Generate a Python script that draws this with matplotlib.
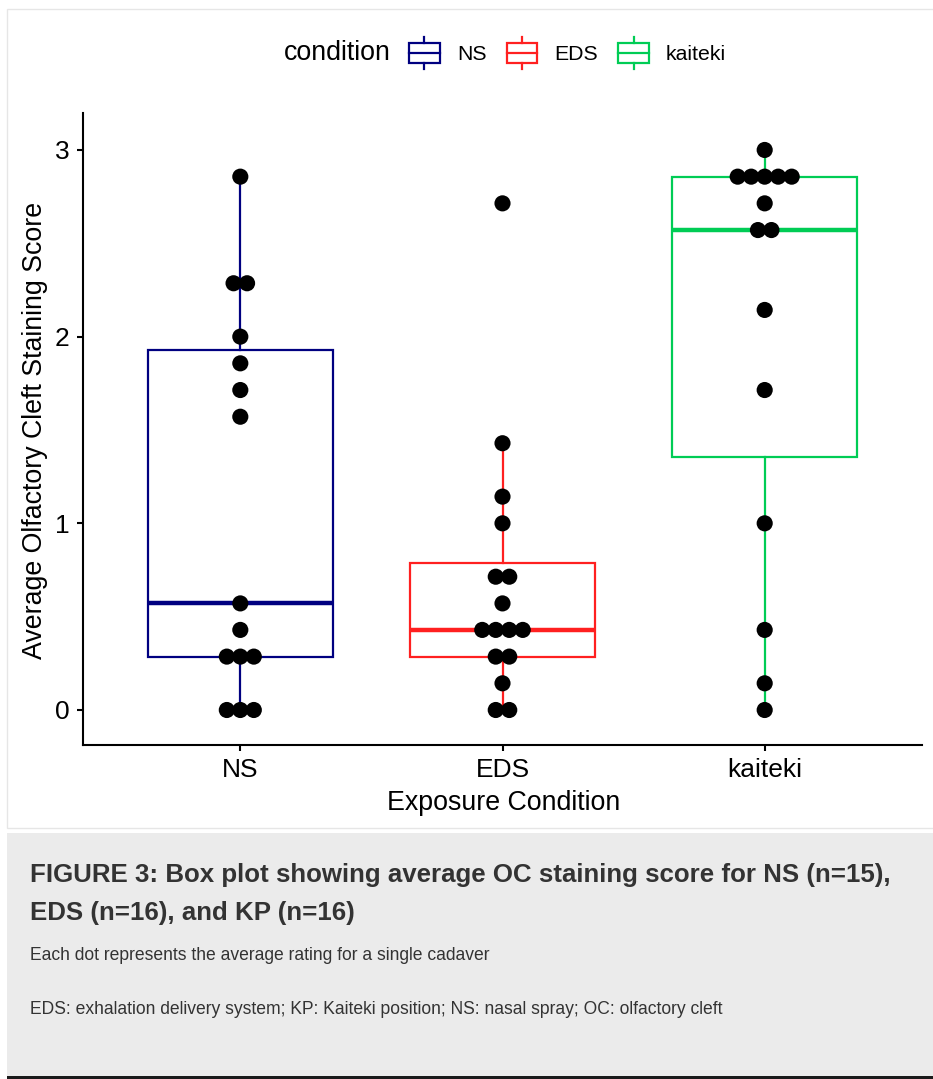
import matplotlib
matplotlib.use("Agg")
import matplotlib.pyplot as plt
from matplotlib.patches import Rectangle
from matplotlib.lines import Line2D
from matplotlib.legend_handler import HandlerBase
from collections import Counter

plt.rcParams['font.family'] = ['Liberation Sans', 'DejaVu Sans']

# ---------------- data ----------------
categories = ["NS", "EDS", "kaiteki"]
ns_scores = [2.857, 2.286, 2.286, 2.0, 1.857, 1.714, 1.571, 0.571, 0.429,
             0.286, 0.286, 0.286, 0.0, 0.0, 0.0]
eds_scores = [2.714, 1.429, 1.143, 1.0, 0.714, 0.714, 0.571, 0.429, 0.429,
              0.429, 0.429, 0.286, 0.286, 0.143, 0.0, 0.0]
kaiteki_scores = [3.0, 2.857, 2.857, 2.857, 2.857, 2.857, 2.714, 2.571, 2.571,
                  2.143, 1.714, 1.0, 0.429, 0.143, 0.0]
yticks = [0, 1, 2, 3]
colors = ["#000080", "#FF2020", "#00CC55"]

title_line1 = "FIGURE 3: Box plot showing average OC staining score for NS (n=15),"
title_line2 = "EDS (n=16), and KP (n=16)"
note1 = "Each dot represents the average rating for a single cadaver"
note2 = "EDS: exhalation delivery system; KP: Kaiteki position; NS: nasal spray; OC: olfactory cleft"

W, H = 933, 1079
fig = plt.figure(figsize=(W / 100, H / 100), dpi=100)
fig.patch.set_facecolor("white")


def fx(px):
    return px / W


def fy(py):
    return 1 - py / H


# panel border and caption background
fig.add_artist(Rectangle((fx(7), fy(828)), fx(W + 5) - fx(7), fy(9) - fy(828),
                         transform=fig.transFigure, facecolor="white",
                         edgecolor="#E6E6E6", lw=1, zorder=0))
fig.add_artist(Rectangle((fx(7), fy(1076)), 1, fy(833) - fy(1076),
                         transform=fig.transFigure, facecolor="#EBEBEB",
                         edgecolor="none", zorder=0))
fig.add_artist(Rectangle((fx(7), 0), 1, fy(1076), transform=fig.transFigure,
                         facecolor="#1A1A1A", edgecolor="none", zorder=0))

ax = fig.add_axes([fx(83), fy(745), fx(922) - fx(83), fy(113) - fy(745)])
ax.set_facecolor("none")

data = [ns_scores, eds_scores, kaiteki_scores]
positions = [1, 2, 3]
for d, p, c in zip(data, positions, colors):
    ax.boxplot([d], positions=[p], widths=0.705, showfliers=False, showcaps=False,
               whis=1.5, patch_artist=True,
               boxprops=dict(facecolor="white", edgecolor=c, linewidth=1.6),
               whiskerprops=dict(color=c, linewidth=1.6),
               medianprops=dict(color=c, linewidth=3.2),
               zorder=2)

# dot plot: stack equal values side by side
dot_step = 0.0515
for d, p in zip(data, positions):
    counts = Counter(d)
    xs, ys = [], []
    for v, n in counts.items():
        for i in range(n):
            xs.append(p + (i - (n - 1) / 2) * dot_step)
            ys.append(v)
    ax.scatter(xs, ys, s=135, color="black", edgecolors="none", zorder=3)

ax.set_xlim(0.4, 3.6)
ax.set_ylim(-0.1875, 3.198)
ax.set_xticks(positions)
ax.set_xticklabels(categories)
ax.set_yticks(yticks)
ax.set_yticklabels([str(t) for t in yticks])
for s in ["top", "right"]:
    ax.spines[s].set_visible(False)
for s in ["left", "bottom"]:
    ax.spines[s].set_linewidth(1.5)
    ax.spines[s].set_color("black")
ax.tick_params(axis="both", length=4.5, width=1.5, color="black",
               labelsize=19, labelcolor="black")
ax.tick_params(axis="y", pad=5)
ax.tick_params(axis="x", pad=5)

ytitle = fig.text(fx(35), fy(430), "Average Olfactory Cleft Staining Score",
                  rotation=90, ha="center", va="center", fontsize=19.3,
                  color="black")
xtitle = fig.text(fx(504), fy(803), "Exposure Condition", ha="center",
                  va="center", fontsize=19.3, color="black")


# legend
class BoxHandler(HandlerBase):
    def create_artists(self, legend, orig_handle, xdescent, ydescent, width,
                       height, fontsize, trans):
        c = orig_handle.get_edgecolor()
        x0, y0 = -xdescent, -ydescent
        rect = Rectangle((x0, y0 + 0.19 * height), width, 0.62 * height,
                         facecolor="white", edgecolor=c, lw=1.6, transform=trans)
        med = Line2D([x0, x0 + width], [y0 + 0.5 * height] * 2, color=c, lw=1.6,
                     transform=trans)
        xm = x0 + width / 2
        w1 = Line2D([xm, xm], [y0, y0 + 0.19 * height], color=c, lw=1.6,
                    transform=trans)
        w2 = Line2D([xm, xm], [y0 + 0.81 * height, y0 + height], color=c, lw=1.6,
                    transform=trans)
        return [rect, med, w1, w2]


handles = [Rectangle((0, 0), 1, 1, edgecolor=c, facecolor="white") for c in colors]
leg = fig.legend(handles, categories, handler_map={Rectangle: BoxHandler()},
                 loc="center left", bbox_to_anchor=(fx(409), fy(53)),
                 bbox_transform=fig.transFigure, ncol=3, frameon=False,
                 fontsize=15.3, borderpad=0, borderaxespad=0,
                 handlelength=1.45, handleheight=2.0, handletextpad=0.8,
                 columnspacing=0.95)
fig.text(fx(284), fy(53), "condition", ha="left", va="center", fontsize=19.3,
         color="black")

# caption
t1 = fig.text(fx(30), fy(875), title_line1, ha="left", va="center",
              fontsize=18.6, fontweight="bold", color="#333333")
t2 = fig.text(fx(30), fy(913), title_line2, ha="left", va="center",
              fontsize=18.6, fontweight="bold", color="#333333")
n1 = fig.text(fx(30), fy(956), note1, ha="left", va="center", fontsize=12.5,
              color="#333333")
n2 = fig.text(fx(30), fy(1010), note2, ha="left", va="center", fontsize=12.5,
              color="#333333")

# fine-tune caption font sizes to the measured widths of the reference
fig.canvas.draw()
r = fig.canvas.get_renderer()
for t, target in [(t1, 863), (n1, 462), (n2, 697)]:
    w = t.get_window_extent(r).width
    t.set_fontsize(t.get_fontsize() * target / w)
t2.set_fontsize(t1.get_fontsize())

fig.savefig("out.png", dpi=100)
